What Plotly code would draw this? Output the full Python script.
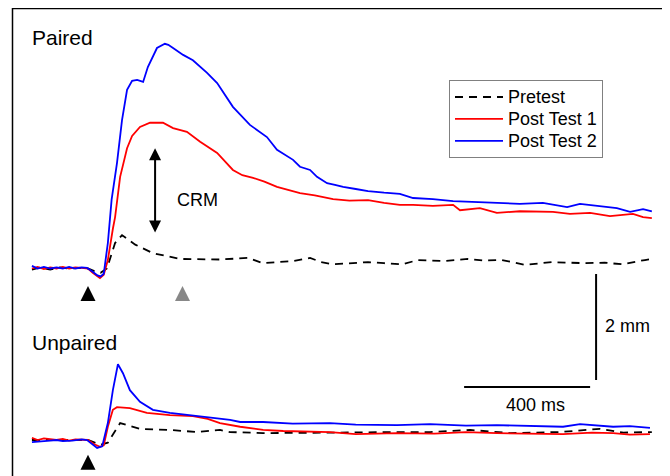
import plotly.graph_objects as go

W, H = 670, 476

# ---------------- data (time in ms relative to CS onset, eyelid position in mm) -------------
paired_pre_t = [-178, -150, -120, -90, -60, -30, 0, 20, 40, 60, 86, 108, 150, 206, 292, 356, 420, 508, 530,
                556, 600, 651, 705, 740, 778, 889, 940, 997, 1048, 1133, 1206, 1260, 1314, 1387, 1473, 1578,
                1640, 1695, 1768, 1790]
paired_pre_y = [-0.02, 0.02, -0.02, 0.02, 0.0, 0.01, 0.0, -0.05, -0.08, 0.0, 0.48, 0.63, 0.45, 0.29, 0.18, 0.18,
                0.17, 0.20, 0.16, 0.10, 0.12, 0.14, 0.20, 0.12, 0.08, 0.12, 0.10, 0.08, 0.16, 0.14, 0.18, 0.15,
                0.16, 0.07, 0.12, 0.10, 0.11, 0.08, 0.16, 0.18]

paired_p1_t = [-178, -160, -140, -120, -100, -80, -60, -40, -20, 0, 15, 30, 38, 50, 63, 79, 86, 102, 124, 140,
               165, 197, 229, 238, 270, 314, 356, 410, 460, 490, 524, 560, 600, 640, 673, 720, 778, 830, 889,
               940, 990, 1032, 1095, 1159, 1181, 1244, 1298, 1371, 1476, 1530, 1594, 1657, 1700, 1730, 1762,
               1790]
paired_p1_y = [0.0, 0.03, -0.01, 0.02, 0.0, 0.03, 0.0, 0.02, 0.01, 0.0, -0.08, -0.15, -0.18, -0.12, 0.16, 0.75,
               0.97, 1.73, 2.27, 2.50, 2.67, 2.75, 2.76, 2.75, 2.65, 2.58, 2.39, 2.18, 1.86, 1.76, 1.71, 1.64,
               1.54, 1.47, 1.42, 1.38, 1.31, 1.28, 1.29, 1.24, 1.20, 1.20, 1.18, 1.20, 1.10, 1.14, 1.05, 1.08,
               1.07, 1.03, 1.05, 0.99, 1.02, 1.03, 0.97, 0.95]

paired_p2_t = [-178, -160, -140, -120, -100, -80, -60, -40, -20, -3, 15, 30, 40, 50, 63, 75, 92, 108, 124, 140,
               156, 175, 190, 219, 244, 255, 270, 302, 333, 378, 410, 460, 514, 540, 568, 600, 651, 673, 705,
               727, 759, 784, 810, 850, 889, 940, 990, 1032, 1095, 1159, 1244, 1308, 1371, 1444, 1521, 1562,
               1625, 1679, 1721, 1762, 1790]
paired_p2_y = [0.05, 0.0, 0.03, 0.0, 0.02, 0.0, 0.03, 0.0, 0.02, 0.01, -0.06, -0.13, -0.15, -0.10, 0.48, 1.30,
               1.99, 2.80, 3.37, 3.54, 3.56, 3.52, 3.80, 4.16, 4.24, 4.22, 4.16, 4.03, 3.93, 3.69, 3.50, 3.05,
               2.71, 2.60, 2.48, 2.24, 2.05, 1.92, 1.86, 1.73, 1.61, 1.58, 1.54, 1.50, 1.46, 1.43, 1.41, 1.33,
               1.31, 1.27, 1.25, 1.24, 1.22, 1.24, 1.16, 1.22, 1.18, 1.14, 1.07, 1.12, 1.08]

unpaired_pre_t = [-178, -100, 0, 40, 63, 102, 165, 260, 346, 419, 451, 556, 673, 800, 990, 1086, 1213, 1340,
                  1498, 1625, 1700, 1752, 1790]
unpaired_pre_y = [0.0, 0.0, 0.0, -0.09, -0.05, 0.32, 0.21, 0.19, 0.15, 0.19, 0.15, 0.13, 0.13, 0.14, 0.15, 0.15,
                  0.19, 0.13, 0.15, 0.21, 0.14, 0.15, 0.15]

unpaired_p1_t = [-178, -160, -140, -120, -100, -80, -60, -40, -20, 0, 20, 38, 50, 63, 79, 92, 133, 187, 260, 333,
                 380, 419, 483, 556, 620, 700, 768, 850, 981, 1100, 1200, 1298, 1400, 1508, 1600, 1667, 1720,
                 1784]
unpaired_p1_y = [0.04, 0.0, 0.03, 0.02, 0.0, 0.02, -0.01, 0.01, 0.0, 0.0, -0.08, -0.13, -0.10, 0.25, 0.57, 0.62,
                 0.60, 0.51, 0.47, 0.45, 0.40, 0.32, 0.25, 0.19, 0.17, 0.16, 0.15, 0.11, 0.13, 0.12, 0.15, 0.13,
                 0.12, 0.11, 0.14, 0.13, 0.10, 0.11]

unpaired_p2_t = [-178, -150, -120, -100, -80, -50, -20, -3, 15, 29, 45, 63, 79, 95, 111, 133, 165, 206, 260, 314,
                 378, 451, 483, 556, 650, 768, 850, 981, 1086, 1200, 1298, 1400, 1508, 1562, 1667, 1720, 1784]
unpaired_p2_y = [-0.04, -0.02, -0.01, 0.0, -0.02, -0.01, 0.01, 0.0, -0.08, -0.15, -0.12, 0.32, 0.94, 1.43, 1.26,
                 0.94, 0.72, 0.57, 0.51, 0.47, 0.43, 0.38, 0.34, 0.34, 0.31, 0.32, 0.29, 0.28, 0.30, 0.27, 0.28,
                 0.26, 0.25, 0.30, 0.25, 0.26, 0.23]

series_names = ["Pretest", "Post Test 1", "Post Test 2"]
series_colors = ["#000000", "#FF0000", "#0000FF"]
series_dash = ["8px,6px", "solid", "solid"]

stim_paired_t = [0]          # CS onset (black triangle)
stim_us_t = [300]            # US time (grey triangle)
stim_unpaired_t = [0]

crm_t = 213                  # CRM arrow position
crm_top, crm_bottom = 2.27, 0.65

scale_ms = 400
scale_mm = 2
# -------------------------------------------------------------------------------------------

# the page body has an 8px margin: figure pixel = page pixel - 8
OFF = 8
X_RANGE = [(OFF - 88) / 0.315, (OFF + W - 88) / 0.315]
Y1_RANGE = [(268.5 - (OFF + H)) / 53, (268.5 - OFF) / 53]
Y2_RANGE = [(440 - (OFF + H)) / 53, (440 - OFF) / 53]


def px(x):
    return (x - OFF) / W


def py(y):
    return 1 - (y - OFF) / H


fig = go.Figure()

paired = [(paired_pre_t, paired_pre_y), (paired_p1_t, paired_p1_y), (paired_p2_t, paired_p2_y)]
unpaired = [(unpaired_pre_t, unpaired_pre_y), (unpaired_p1_t, unpaired_p1_y), (unpaired_p2_t, unpaired_p2_y)]

for i, (t, y) in enumerate(paired):
    fig.add_trace(go.Scatter(x=t, y=y, mode="lines",
                             name=f"<span style='font-size:18px'>{series_names[i]}</span>",
                             line=dict(color=series_colors[i], width=1.8, dash=series_dash[i]),
                             yaxis="y", showlegend=True))
for i, (t, y) in enumerate(unpaired):
    fig.add_trace(go.Scatter(x=t, y=y, mode="lines", name=series_names[i],
                             line=dict(color=series_colors[i], width=1.8, dash=series_dash[i]),
                             yaxis="y2", showlegend=False))

# stimulus markers
fig.add_trace(go.Scatter(x=stim_paired_t, y=[-0.33], mode="markers", showlegend=False, yaxis="y",
                         marker=dict(symbol="arrow-up", size=15, color="#000000", line=dict(width=0))))
fig.add_trace(go.Scatter(x=stim_us_t, y=[-0.33], mode="markers", showlegend=False, yaxis="y",
                         marker=dict(symbol="arrow-up", size=15, color="#888888", line=dict(width=0))))
fig.add_trace(go.Scatter(x=stim_unpaired_t, y=[-0.28], mode="markers", showlegend=False, yaxis="y2",
                         marker=dict(symbol="arrow-up", size=15, color="#000000", line=dict(width=0))))

# CRM double arrow
fig.add_annotation(x=crm_t, y=crm_top, ax=crm_t, ay=crm_bottom, xref="x", yref="y", axref="x", ayref="y",
                   text="", showarrow=True, arrowhead=2, startarrowhead=2, arrowside="end+start",
                   arrowsize=1.2, startarrowsize=1.2, arrowwidth=2, arrowcolor="#000000",
                   standoff=0, startstandoff=0)

# scale bars
bar_t0 = 1194
bar_y = -2.236
vbar_t = 1613
vbar_top = -0.104
fig.add_shape(type="line", xref="x", yref="y", x0=bar_t0, x1=bar_t0 + scale_ms, y0=bar_y, y1=bar_y,
              line=dict(color="#000000", width=2))
fig.add_shape(type="line", xref="x", yref="y", x0=vbar_t, x1=vbar_t, y0=vbar_top, y1=vbar_top - scale_mm,
              line=dict(color="#000000", width=2))

# frame
fig.add_shape(type="rect", xref="paper", yref="paper", x0=px(12.5), x1=px(667.5), y0=-0.1, y1=py(8.5),
              line=dict(color="#000000", width=1.5))

font = "Arial, Liberation Sans, sans-serif"
texts = [
    ("Paired", 30, 37, "left", 21),
    ("Unpaired", 30, 342, "left", 21),
    ("CRM", 175, 200, "left", 18),
    (f"{scale_mm} mm", 603, 326, "left", 18),
    (f"{scale_ms} ms", 535, 405, "center", 18),
]
for txt, x, y, anchor, size in texts:
    fig.add_annotation(x=px(x), y=py(y), xref="paper", yref="paper", text=txt, showarrow=False,
                       xanchor=anchor, yanchor="middle", font=dict(family=font, size=size, color="#000000"))

fig.update_layout(
    width=W, height=H,
    margin=dict(l=0, r=0, t=0, b=0),
    paper_bgcolor="white", plot_bgcolor="white",
    xaxis=dict(range=X_RANGE, visible=False, domain=[0, 1]),
    yaxis=dict(range=Y1_RANGE, visible=False, domain=[0, 1]),
    yaxis2=dict(range=Y2_RANGE, visible=False, overlaying="y"),
    legend=dict(x=px(449), y=py(80), xanchor="left", yanchor="top",
                bordercolor="#808080", borderwidth=1, bgcolor="white",
                font=dict(family=font, size=14.6, color="#000000"),
                itemwidth=48, tracegroupgap=0),
    showlegend=True,
)

fig.write_html("out.html")
